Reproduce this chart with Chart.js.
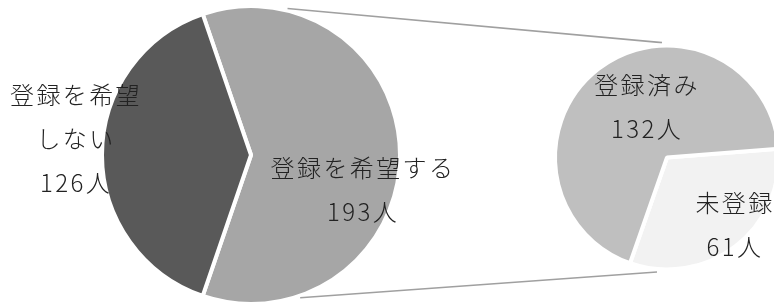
<!DOCTYPE html>
<html>
<head>
<meta charset="utf-8">
<script src="https://cdn.jsdelivr.net/npm/chart.js@4"></script>
<style>
  html, body { margin: 0; padding: 0; background: #fff; overflow: hidden; }
  #wrap { position: relative; width: 774px; height: 304px; overflow: hidden; }
  canvas { position: absolute; top: 0; left: 0; }
</style>
</head>
<body>
<div id="wrap">
  <canvas id="mainPie" width="774" height="304"></canvas>
  <canvas id="subPie" width="900" height="304"></canvas>
</div>
<script>
// Main pie: 登録を希望する / しない
const mainLabels = ['登録を希望する', '登録を希望しない'];
const mainValues = [193, 126];
const mainColors = ['#a6a6a6', '#595959'];

// Secondary pie: breakdown of 登録を希望する
const subLabels = ['未登録', '登録済み'];
const subValues = [61, 132];
const subColors = ['#f2f2f2', '#bfbfbf'];

const unit = '人';

const FONT = '300 24px "Noto Sans CJK JP", "Noto Sans CJK SC", sans-serif';
const LINE_H = 44;

// label placement relative to each pie centre (first line), plus wrap width
const mainLabelPos = [{ dx: 111, dy: 13, wrap: 10 }, { dx: -176, dy: -60, wrap: 5 }];
const subLabelPos = [{ dx: 67, dy: 45, wrap: 10 }, { dx: -21, dy: -73, wrap: 10 }];

function wrapText(text, n) {
    const out = [];
    for (let i = 0; i < text.length; i += n) out.push(text.slice(i, i + n));
    return out;
}

// Draws the category + value labels for a pie
function labelPlugin(labels, values, pos) {
    return {
        id: 'sliceLabels',
        afterDatasetsDraw(chart) {
            const ctx = chart.ctx;
            const arc = chart.getDatasetMeta(0).data[0];
            ctx.save();
            ctx.font = FONT;
            ctx.fillStyle = '#222222';
            ctx.textAlign = 'center';
            ctx.textBaseline = 'middle';
            ctx.letterSpacing = '2.4px';
            labels.forEach((label, i) => {
                const lines = wrapText(label, pos[i].wrap);
                lines.push(values[i] + unit);
                lines.forEach((line, j) => {
                    ctx.fillText(line, arc.x + pos[i].dx + 1, arc.y + pos[i].dy + j * LINE_H);
                });
            });
            ctx.restore();
        }
    };
}

function pieOptions(rotation, radius, padding) {
    return {
        responsive: false,
        animation: false,
        rotation: rotation,
        radius: radius,
        layout: { padding: padding },
        plugins: { legend: { display: false }, tooltip: { enabled: false } },
        events: []
    };
}

const mainShare = mainValues[0] / mainValues.reduce((a, b) => a + b, 0);
const mainRotation = 90 - mainShare * 180;

const mainChart = new Chart(document.getElementById('mainPie'), {
    type: 'pie',
    data: {
        labels: mainLabels,
        datasets: [{
            data: mainValues,
            backgroundColor: mainColors,
            borderColor: '#ffffff',
            borderWidth: 4
        }]
    },
    options: pieOptions(mainRotation, 149, { left: 0, right: 272, top: 6, bottom: 0 }),
    plugins: [labelPlugin(mainLabels, mainValues, mainLabelPos)]
});

// Connector lines from main pie to secondary pie
const connectorPlugin = {
    id: 'connectors',
    beforeDatasetsDraw(chart) {
        const a = mainChart.getDatasetMeta(0).data[0];
        const b = chart.getDatasetMeta(0).data[0];
        const pt = (arc, deg, extra) => {
            const t = deg * Math.PI / 180;
            const r = arc.outerRadius + extra;
            return [arc.x + r * Math.sin(t), arc.y - r * Math.cos(t)];
        };
        const ctx = chart.ctx;
        ctx.save();
        ctx.strokeStyle = '#a0a0a0';
        ctx.lineWidth = 1.6;
        [[14, -2.5], [161, 185]].forEach(([s, e]) => {
            const p1 = pt(a, s, 2);
            const p2 = pt(b, e, 3);
            ctx.beginPath();
            ctx.moveTo(p1[0], p1[1]);
            ctx.lineTo(p2[0], p2[1]);
            ctx.stroke();
        });
        ctx.restore();
    }
};

new Chart(document.getElementById('subPie'), {
    type: 'pie',
    data: {
        labels: subLabels,
        datasets: [{
            data: subValues,
            backgroundColor: subColors,
            borderColor: '#ffffff',
            borderWidth: 4
        }]
    },
    options: pieOptions(85.5, 112, { left: 434, right: 0, top: 11, bottom: 0 }),
    plugins: [connectorPlugin, labelPlugin(subLabels, subValues, subLabelPos)]
});
</script>
</body>
</html>
